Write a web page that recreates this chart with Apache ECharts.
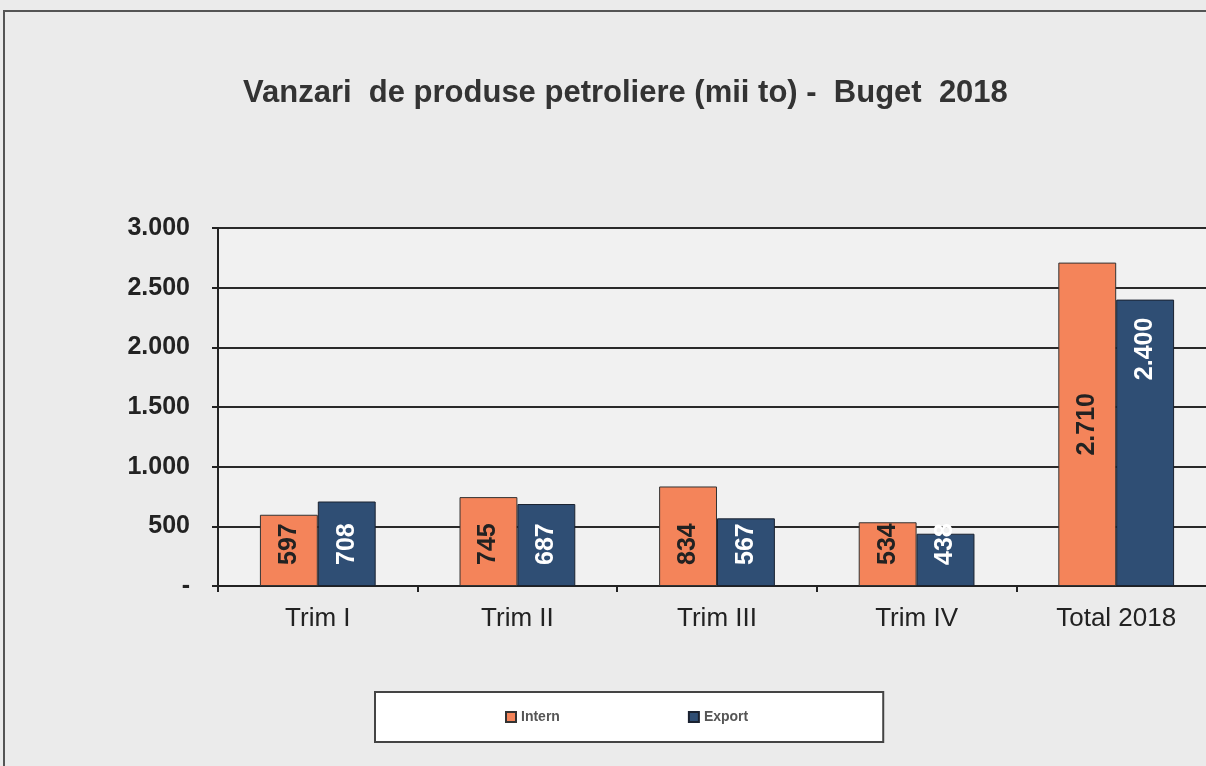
<!DOCTYPE html>
<html><head><meta charset="utf-8">
<script src="https://cdn.jsdelivr.net/npm/echarts@6/dist/echarts.min.js"></script>
<style>html,body{margin:0;padding:0;background:#ebebeb;}#c{width:1206px;height:766px;}</style>
</head><body><div id="c"></div>
<script>
const categories = ['Trim I', 'Trim II', 'Trim III', 'Trim IV', 'Total 2018'];
const intern = [597, 745, 834, 534, 2710];
const exportVals = [708, 687, 567, 438, 2400];
const yTicks = [0, 500, 1000, 1500, 2000, 2500, 3000];

function fmt(v) {
  if (v === 0) return '-';
  return String(v).replace(/\B(?=(\d{3})+(?!\d))/g, '.');
}

const baseLabel = {
  show: true, rotate: 90, position: 'insideBottom', distance: 21,
  align: 'left', verticalAlign: 'middle',
  formatter: p => fmt(p.value),
  fontFamily: 'Liberation Sans, Arial', fontWeight: 'bold', fontSize: 25
};

function items(values, lastLabel) {
  return values.map((v, i) => i === values.length - 1 ? {value: v, label: lastLabel} : v);
}

const chart = echarts.init(document.getElementById('c'), null, {renderer: 'canvas'});
chart.setOption({
  backgroundColor: '#ebebeb',
  animation: false,
  title: {
    text: 'Vanzari  de produse petroliere (mii to) -  Buget  2018',
    left: 238, top: 73,
    textStyle: {fontFamily: 'Liberation Sans, Arial', fontWeight: 'bold', fontSize: 31, color: '#333'}
  },
  graphic: [{
    type: 'rect', shape: {x: 4, y: 11, width: 1220, height: 780},
    style: {fill: null, stroke: '#555', lineWidth: 2}, silent: true
  }],
  legend: {
    data: ['Intern', 'Export'],
    left: 375, top: 692,
    backgroundColor: '#ffffff', borderColor: '#444', borderWidth: 2,
    padding: [18, 135, 18, 130],
    itemGap: 128, itemWidth: 10, itemHeight: 10, icon: 'rect',
    textStyle: {fontFamily: 'Liberation Sans, Arial', fontWeight: 'bold', fontSize: 14, color: '#555'}
  },
  grid: {left: 218, width: 998, top: 228, bottom: 180, outerBoundsMode: 'none', containLabel: false,
    show: true, backgroundColor: '#f1f1f1', borderWidth: 0},
  xAxis: {
    type: 'category', data: categories,
    axisLine: {lineStyle: {color: '#222', width: 2}},
    axisTick: {show: true, length: 6, lineStyle: {color: '#222', width: 2}},
    axisLabel: {fontFamily: 'Liberation Sans, Arial', fontSize: 26, color: '#222', margin: 20}
  },
  yAxis: {
    type: 'value', min: 0, max: 3000, interval: 500,
    axisLine: {show: true, lineStyle: {color: '#222', width: 2}},
    axisTick: {show: true, length: 6, lineStyle: {color: '#222', width: 2}},
    splitLine: {lineStyle: {color: '#2a2a2a', width: 2}},
    axisLabel: {fontFamily: 'Liberation Sans, Arial', fontWeight: 'bold', fontSize: 25, color: '#222', margin: 28,
      formatter: v => fmt(v)}
  },
  series: [{
    name: 'Intern', type: 'bar', barGap: '0%', barCategoryGap: '42%',
    data: items(intern, {position: 'inside', align: 'center', verticalAlign: 'middle'}),
    itemStyle: {color: '#f4845a', borderColor: '#333', borderWidth: 1},
    label: Object.assign({}, baseLabel, {color: '#222'})
  }, {
    name: 'Export', type: 'bar',
    data: items(exportVals, {position: 'insideTop', distance: 18, align: 'right', verticalAlign: 'middle'}),
    itemStyle: {color: '#2f4e74', borderColor: '#1a2230', borderWidth: 1},
    label: Object.assign({}, baseLabel, {color: '#ffffff'})
  }]
});
</script>
</body></html>
